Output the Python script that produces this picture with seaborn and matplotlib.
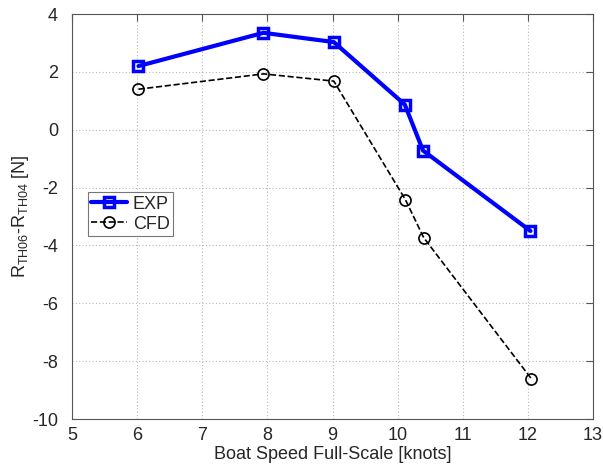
import matplotlib
matplotlib.use("Agg")
import matplotlib.pyplot as plt
import seaborn as sns
import pandas as pd

# values
speed_exp = [6.02, 7.94, 9.02, 10.11, 10.39, 12.04]
diff_exp = [2.2, 3.35, 3.03, 0.87, -0.72, -3.5]
speed_cfd = [6.02, 7.94, 9.02, 10.12, 10.40, 12.05]
diff_cfd = [1.4, 1.93, 1.68, -2.42, -3.73, -8.6]

sns.set_style("white")
plt.rcParams["font.family"] = ["Liberation Sans", "DejaVu Sans"]
plt.rcParams["mathtext.default"] = "regular"
plt.rcParams["axes.unicode_minus"] = False

exp = pd.DataFrame({"speed": speed_exp, "diff": diff_exp})
cfd = pd.DataFrame({"speed": speed_cfd, "diff": diff_cfd})

fig = plt.figure(figsize=(6.03, 4.76), dpi=100)
ax = fig.add_axes([72 / 603, 1 - 419 / 476, 521 / 603, 405 / 476])

sns.lineplot(data=exp, x="speed", y="diff", ax=ax, color="#0000ff", lw=3,
             marker="s", markersize=6.5, markerfacecolor="none",
             markeredgecolor="#0000ff", markeredgewidth=2.5, label="EXP",
             sort=False)
sns.lineplot(data=cfd, x="speed", y="diff", ax=ax, color="black", lw=1.2,
             ls="--", marker="o", markersize=8, markerfacecolor="none",
             markeredgecolor="black", markeredgewidth=1.2, label="CFD",
             sort=False)

ax.set_xlim(5, 13)
ax.set_ylim(-10, 4)
ax.set_xticks(range(5, 14))
ax.set_yticks(range(-10, 5, 2))
ax.grid(True, ls=(0, (1, 2)), color="#b8b8b8", lw=0.8)
ax.tick_params(direction="in", top=True, right=True, labelsize=13,
               length=5, color="#555555")
ax.tick_params(axis="y", pad=10)
ax.tick_params(axis="x", pad=6)
for sp in ax.spines.values():
    sp.set_color("#555555")

ax.set_xlabel("Boat Speed Full-Scale [knots]", fontsize=13, labelpad=1)
ax.set_ylabel(r"R$_{TH06}$-R$_{TH04}$ [N]", fontsize=13, labelpad=1)

leg = ax.legend(loc="upper left", bbox_to_anchor=(0.03, 0.56),
                fontsize=13, frameon=True, fancybox=False,
                handlelength=2.0, borderpad=0.2, labelspacing=0.15,
                handletextpad=0.3, borderaxespad=0)
leg.get_frame().set_edgecolor("#555555")
leg.get_frame().set_linewidth(0.8)

fig.savefig("out.png", dpi=100)
